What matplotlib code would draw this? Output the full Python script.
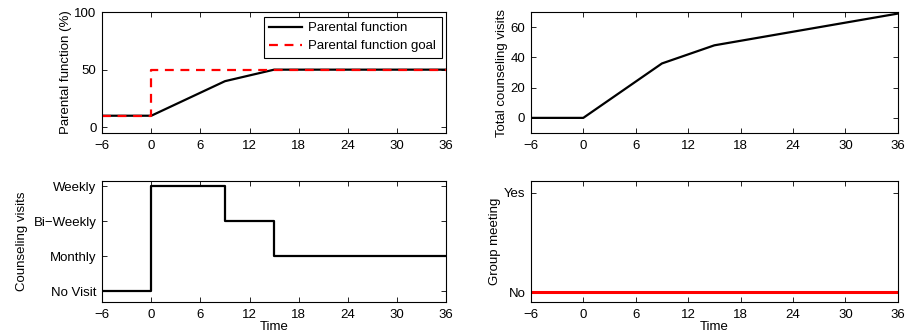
import matplotlib
matplotlib.use("Agg")
import matplotlib.pyplot as plt

plt.rcParams['font.family'] = ['Liberation Sans', 'DejaVu Sans']
plt.rcParams['font.size'] = 9.5
plt.rcParams['axes.unicode_minus'] = True

time_pf = [-6, 0, 9, 15, 36]
parental_function = [10, 10, 40, 50, 50]
time_goal = [-6, 0, 0, 36]
parental_goal = [10, 10, 50, 50]

time_total = [-6, 0, 9, 15, 36]
total_visits = [0, 0, 36, 48, 69]

time_step = [-6, 0, 0, 9, 9, 15, 15, 36]
visit_level = [0, 0, 3, 3, 2, 2, 1, 1]
visit_labels = ['No Visit', 'Monthly', 'Bi\u2212Weekly', 'Weekly']

time_group = [-6, 36]
group_meeting = [0, 0]
group_labels = ['No', 'Yes']

xticks = [-6, 0, 6, 12, 18, 24, 30, 36]

fig = plt.figure(figsize=(9.2, 3.35), dpi=100)
ax1 = fig.add_axes([0.111, 0.603, 0.374, 0.361])
ax2 = fig.add_axes([0.577, 0.603, 0.399, 0.361])
ax3 = fig.add_axes([0.111, 0.0985, 0.374, 0.361])
ax4 = fig.add_axes([0.577, 0.0985, 0.399, 0.361])

for ax in (ax1, ax2, ax3, ax4):
    ax.set_xlim(-6, 36)
    ax.set_xticks(xticks)
    ax.tick_params(direction='in', top=True, right=True, length=3.5, width=0.6)
    ax.tick_params(axis='x', pad=5)
    ax.tick_params(axis='y', pad=4)
    for s in ax.spines.values():
        s.set_linewidth(0.8)

ax1.plot(time_pf, parental_function, color='black', lw=1.6, label='Parental function')
ax1.plot(time_goal, parental_goal, color='red', lw=1.6, ls=(0, (4, 3)), label='Parental function goal')
ax1.set_ylim(-5, 100)
ax1.set_yticks([0, 50, 100])
ax1.set_ylabel('Parental function (%)', labelpad=2)
leg = ax1.legend(loc='upper right', fancybox=False, edgecolor='black', framealpha=1,
                 borderpad=0.4, handlelength=2.5, handletextpad=0.5, labelspacing=0.45,
                 borderaxespad=0.35)
leg.get_frame().set_linewidth(0.8)

ax2.plot(time_total, total_visits, color='black', lw=1.6)
ax2.set_ylim(-10, 70)
ax2.set_yticks([0, 20, 40, 60])
ax2.set_ylabel('Total counseling visits', labelpad=2)

ax3.plot(time_step, visit_level, color='black', lw=1.6)
ax3.set_ylim(-0.3, 3.15)
ax3.set_yticks(range(len(visit_labels)))
ax3.set_yticklabels(visit_labels)
ax3.set_ylabel('Counseling visits', labelpad=4)
ax3.set_xlabel('Time', labelpad=0)

ax4.plot(time_group, group_meeting, color='red', lw=2.2)
ax4.set_ylim(-0.1, 1.12)
ax4.set_yticks(range(len(group_labels)))
ax4.set_yticklabels(group_labels)
ax4.set_ylabel('Group meeting', labelpad=2)
ax4.set_xlabel('Time', labelpad=0)

fig.savefig('out.png', dpi=100)
